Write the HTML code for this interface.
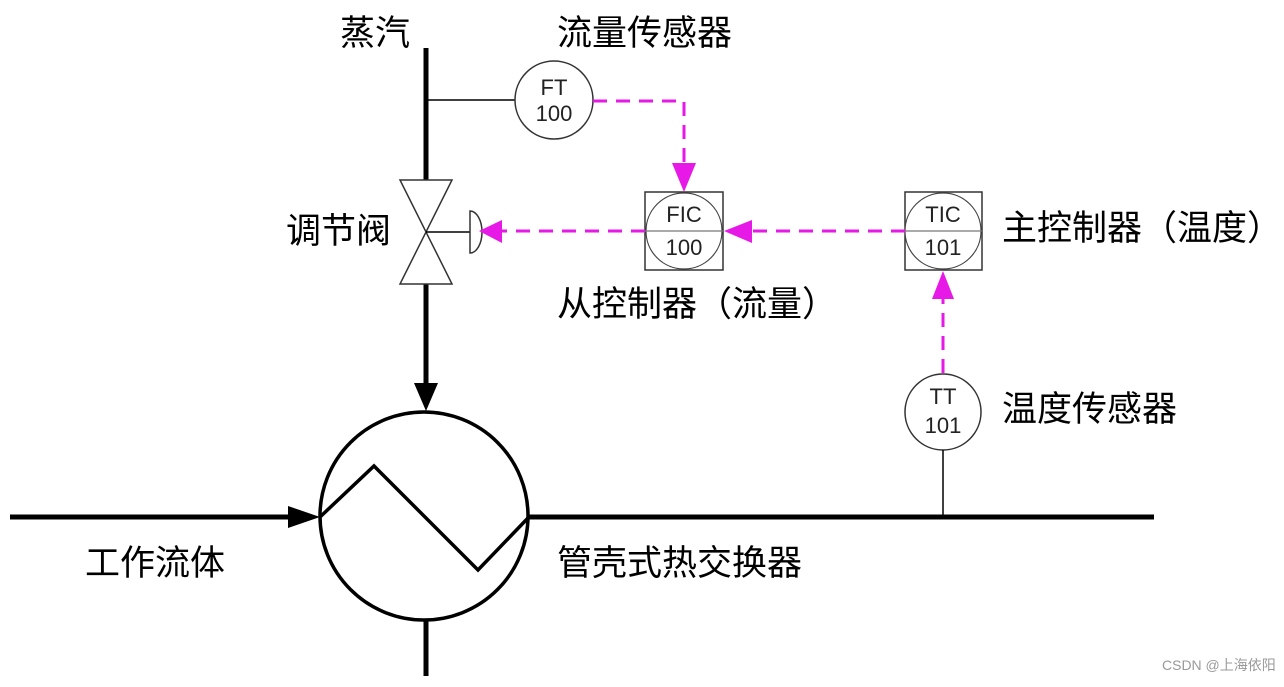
<!DOCTYPE html>
<html><head><meta charset="utf-8"><style>
html,body{margin:0;padding:0;background:#fff;}
svg{display:block;}
.t{font-family:"Liberation Sans","Noto Sans CJK SC",sans-serif;font-size:35px;fill:#000;}
.s{font-family:"Liberation Sans",sans-serif;font-size:22px;fill:#222;text-anchor:middle;}
</style></head><body>
<svg width="1284" height="687" viewBox="0 0 1284 687" xmlns="http://www.w3.org/2000/svg">
<line x1="426" y1="48" x2="426" y2="180" stroke="#000" stroke-width="5"/>
<line x1="426" y1="284" x2="426" y2="385" stroke="#000" stroke-width="5"/>
<polygon points="414,383 438,383 426,411" fill="#000"/>
<line x1="426" y1="620" x2="426" y2="676" stroke="#000" stroke-width="5"/>
<line x1="426" y1="100" x2="515" y2="100" stroke="#000" stroke-width="1.5"/>
<circle cx="554" cy="100" r="39" fill="#fff" stroke="#333" stroke-width="1.5"/>
<text class="s" x="554" y="95">FT</text><text class="s" x="554" y="121">100</text>
<polygon points="400,180 452,180 426,232" fill="#fff" stroke="#333" stroke-width="1.5"/>
<polygon points="400,284 452,284 426,232" fill="#fff" stroke="#333" stroke-width="1.5"/>
<line x1="426" y1="232" x2="470" y2="232" stroke="#000" stroke-width="1.5"/>
<path d="M470,211 A12,21 0 0 1 470,253 Z" fill="#fff" stroke="#333" stroke-width="1.5"/>
<rect x="645" y="192" width="78" height="78" fill="#fff" stroke="#333" stroke-width="1.5"/>
<circle cx="684" cy="231" r="38" fill="#fff" stroke="#444" stroke-width="1.2"/>
<line x1="645" y1="231" x2="723" y2="231" stroke="#777" stroke-width="1.2"/>
<text class="s" x="684" y="222">FIC</text><text class="s" x="684" y="255">100</text>
<rect x="905" y="192" width="77" height="78" fill="#fff" stroke="#333" stroke-width="1.5"/>
<circle cx="943" cy="231" r="38" fill="#fff" stroke="#444" stroke-width="1.2"/>
<line x1="905" y1="231" x2="982" y2="231" stroke="#777" stroke-width="1.2"/>
<text class="s" x="943" y="222">TIC</text><text class="s" x="943" y="255">101</text>
<circle cx="943" cy="412" r="38" fill="#fff" stroke="#333" stroke-width="1.5"/>
<text class="s" x="943" y="404">TT</text><text class="s" x="943" y="433">101</text>
<line x1="943" y1="450" x2="943" y2="517" stroke="#000" stroke-width="1.5"/>
<g stroke="#e619e6" stroke-width="3" fill="none" stroke-dasharray="14,9">
<polyline points="593,101 684,101 684,165"/>
<line x1="645" y1="231" x2="500" y2="231"/>
<line x1="905" y1="231" x2="752" y2="231"/>
<line x1="943" y1="373" x2="943" y2="298"/>
</g>
<g fill="#e619e6">
<polygon points="672,163 696,163 684,192"/>
<polygon points="502,220 502,243 479,231"/>
<polygon points="752,220 752,243 724,231"/>
<polygon points="932,299 954,299 943,271"/>
</g>
<line x1="10" y1="517" x2="290" y2="517" stroke="#000" stroke-width="5"/>
<polygon points="288,506 288,528 320,517" fill="#000"/>
<line x1="528" y1="517" x2="1154" y2="517" stroke="#000" stroke-width="5"/>
<circle cx="424" cy="516" r="104" fill="none" stroke="#000" stroke-width="3.5"/>
<polyline points="320,517 374,466 478,570 528,518" fill="none" stroke="#000" stroke-width="3.5"/>
<text class="t" x="340" y="45">蒸汽</text>
<text class="t" x="557" y="45">流量传感器</text>
<text class="t" x="286" y="243">调节阀</text>
<text class="t" x="557" y="316">从控制器（流量）</text>
<text class="t" x="1002" y="240">主控制器（温度）</text>
<text class="t" x="1002" y="421">温度传感器</text>
<text class="t" x="85" y="575">工作流体</text>
<text class="t" x="557" y="575">管壳式热交换器</text>
<text x="1162" y="670" style="font-family:'Liberation Sans','Noto Sans CJK SC',sans-serif;font-size:14px;fill:#999;">CSDN @上海依阳</text>
</svg>
</body></html>
